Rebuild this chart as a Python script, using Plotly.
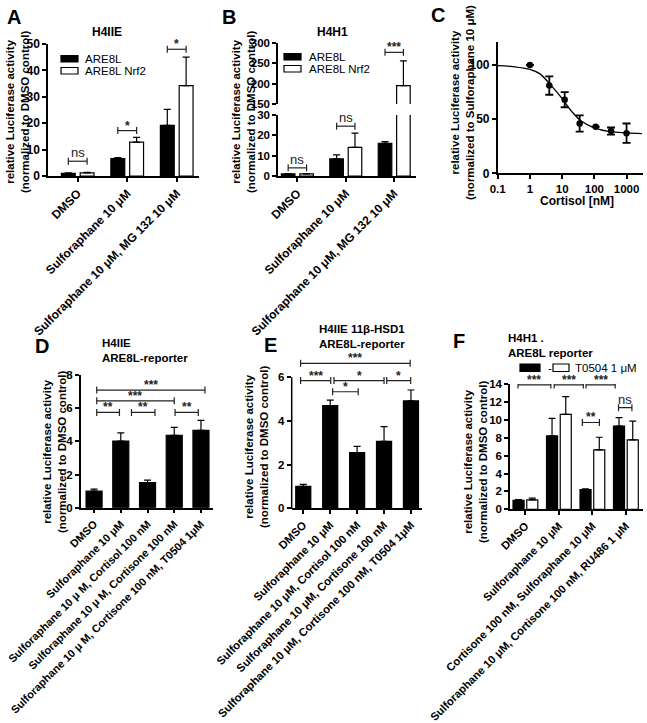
import plotly.graph_objects as go

W, H = 647, 723
FONT = "Liberation Sans"


def fx(p):
    return p / W


def fy(p):
    return 1 - p / H


# ---------------- data ----------------
A_groups = ["DMSO", "Sulforaphane 10 μM", "Sulforaphane 10 μM, MG 132 10 μM"]
A_are8l = [1.0, 6.6, 19.2]
A_are8l_err = [0.2, 0.4, 6.0]
A_nrf2 = [1.2, 12.8, 34.2]
A_nrf2_err = [0.2, 1.8, 10.8]
A_sig = [(-0.19, 0.19, 5.6, "ns"), (0.81, 1.19, 17.2, "*"), (1.81, 2.19, 48.0, "*")]

B_groups = ["DMSO", "Sulforaphane 10 μM", "Sulforaphane 10 μM, MG 132 10 μM"]
B_are8l = [1.0, 8.4, 16.1]
B_are8l_err = [0.2, 2.0, 0.8]
B_nrf2 = [1.0, 14.1, 195.0]
B_nrf2_err = [0.2, 7.0, 61.0]
B_sig_low = [(-0.19, 0.19, 4.0, "ns"), (0.81, 1.19, 24.5, "ns")]
B_sig_up = [(1.81, 2.19, 277.0, "***")]

C_cortisol = [1, 4, 12, 35, 110, 330, 1000]
C_activity = [100, 81, 68, 46, 43, 39, 37]
C_err = [0, 8.5, 7.0, 7.5, 0, 3.3, 9.0]
C_fit_x = [0.1, 0.3, 1, 2, 4, 6, 10, 20, 40, 100, 300, 1000, 3000]
C_fit_y = [99.5, 98.5, 96, 92, 83, 77, 69, 57, 48, 42, 38.5, 37.3, 36.7]

D_labels = ["DMSO", "Sulforaphane 10 μM", "Sulforaphane 10 μ M, Cortisol 100 nM",
            "Sulforaphane 10 μ M, Cortisone 100 nM",
            "Sulforaphane 10 μ M, Cortisone 100 nM, T0504 1μM"]
D_values = [1.0, 4.02, 1.51, 4.37, 4.67]
D_err = [0.12, 0.5, 0.15, 0.48, 0.6]
D_sig = [(0.1, 4.15, 7.1, "***"), (0.1, 3.0, 6.45, "***"), (0.1, 0.95, 5.75, "**"),
         (1.4, 2.28, 5.75, "**"), (3.03, 3.9, 5.75, "**")]

E_labels = ["DMSO", "Sulforaphane 10 μM", "Sulforaphane 10 μM, Cortisol 100 nM",
            "Sulforaphane 10 μM, Cortisone 100 nM",
            "Sulforaphane 10 μM, Cortisone 100 nM, T0504 1μM"]
E_values = [1.0, 4.70, 2.55, 3.07, 4.92]
E_err = [0.1, 0.26, 0.29, 0.67, 0.5]
E_sig = [(-0.1, 3.97, 6.64, "***"), (-0.1, 1.02, 5.85, "***"), (1.14, 3.0, 5.85, "*"),
         (3.1, 3.99, 5.85, "*"), (1.09, 2.04, 5.34, "*")]

F_labels = ["DMSO", "Sulforaphane 10 μM", "Cortisone 100 nM, Sulforaphane 10 μM",
            "Sulforaphane 10 μM, Cortisone 100 nM, RU486 1 μM"]
F_minus = [1.0, 8.2, 2.2, 9.3]
F_minus_err = [0.08, 1.95, 0.08, 0.95]
F_t0504 = [1.05, 10.6, 6.65, 7.75]
F_t0504_err = [0.2, 2.0, 1.4, 2.1]
F_sig = [(-0.22, 0.76, 13.9, "***"), (0.86, 1.73, 13.9, "***"), (1.81, 2.68, 13.9, "***"),
         (1.7, 2.21, 9.7, "**"), (2.78, 3.18, 11.35, "ns")]

YTITLE = "relative Luciferase activity<br>(normalized to DMSO control)"

# ---------------- figure ----------------
fig = go.Figure()
shapes = []
annots = []


def tickfont(size):
    return dict(family=FONT, size=size, color="black", weight="bold")


def axis_common(size=11.5, **kw):
    d = dict(showline=True, linecolor="black", linewidth=1.5, ticks="outside",
             ticklen=4, tickwidth=1.5, tickcolor="black", showgrid=False,
             zeroline=False, tickfont=tickfont(size), fixedrange=True, automargin=False,
             ticklabeloverflow="allow")
    d.update(kw)
    return d


def upper_err(err):
    return dict(type="data", symmetric=False, array=err, arrayminus=[0] * len(err),
                color="black", thickness=1.2, width=3.5)


def bar(x, y, err, xa, ya, fill, width, offset):
    return go.Bar(x=x, y=y, width=width, offset=offset, xaxis=xa, yaxis=ya,
                  marker=dict(color=fill, line=dict(color="black", width=1.2)),
                  error_y=upper_err(err), showlegend=False)


def bracket(x0, x1, y, label, xr, yr):
    lc = "#222"
    shapes.append(dict(type="line", xref=xr, yref=yr, x0=x0, x1=x1, y0=y, y1=y,
                       line=dict(color=lc, width=1.2)))
    for xe in (x0, x1):
        shapes.append(dict(type="line", xref=xr, yref=yr, ysizemode="pixel", yanchor=y,
                           x0=xe, x1=xe, y0=-3.5, y1=3.5, line=dict(color=lc, width=1.2)))
    isns = label == "ns"
    annots.append(dict(x=(x0 + x1) / 2, y=y, xref=xr, yref=yr, text=label, showarrow=False,
                       yanchor="bottom", yshift=-1 if isns else -4,
                       font=dict(family=FONT, size=13 if isns else 12, color="#222",
                                 weight="normal" if isns else "bold")))


def text(xp, yp, s, size=11, bold=True, xanchor="center", align="center", angle=0):
    annots.append(dict(x=fx(xp), y=fy(yp), xref="paper", yref="paper", text=s,
                       showarrow=False, xanchor=xanchor, yanchor="middle", align=align,
                       textangle=angle,
                       font=dict(family=FONT, size=size, color="black",
                                 weight="bold" if bold else "normal")))


def rect(x0, y0, x1, y1, fill):
    shapes.append(dict(type="rect", xref="paper", yref="paper", x0=fx(x0), x1=fx(x1),
                       y0=fy(y1), y1=fy(y0), fillcolor=fill,
                       line=dict(color="black", width=1.2)))


# ----- Panel A -----
gx = list(range(3))
fig.add_trace(bar(gx, A_are8l, A_are8l_err, "x", "y", "black", 0.28, -0.33))
fig.add_trace(bar(gx, A_nrf2, A_nrf2_err, "x", "y", "white", 0.28, 0.05))
for s in A_sig:
    bracket(*s, "x", "y")

# ----- Panel B (broken axis) -----
for ya in ("y2", "y3"):
    fig.add_trace(bar(gx, B_are8l, B_are8l_err, "x2", ya, "black", 0.28, -0.33))
    fig.add_trace(bar(gx, B_nrf2, B_nrf2_err, "x2", ya, "white", 0.28, 0.05))
for s in B_sig_low:
    bracket(*s, "x2", "y2")
for s in B_sig_up:
    bracket(*s, "x2", "y3")

# ----- Panel C -----
fig.add_trace(go.Scatter(x=C_fit_x, y=C_fit_y, mode="lines", line=dict(color="black", width=1.3,
                         shape="spline", smoothing=1.0), xaxis="x4", yaxis="y4", showlegend=False))
fig.add_trace(go.Scatter(x=C_cortisol, y=C_activity, mode="markers",
                         marker=dict(color="black", size=6.5),
                         error_y=dict(type="data", array=C_err, color="black", thickness=1.8, width=4),
                         xaxis="x4", yaxis="y4", showlegend=False))

# ----- Panel D -----
fig.add_trace(bar(list(range(5)), D_values, D_err, "x5", "y5", "black", 0.6, -0.3))
for s in D_sig:
    bracket(*s, "x5", "y5")

# ----- Panel E -----
fig.add_trace(bar(list(range(5)), E_values, E_err, "x6", "y6", "black", 0.56, -0.28))
for s in E_sig:
    bracket(*s, "x6", "y6")
# E y-axis line only up to 6
shapes.append(dict(type="line", xref="paper", yref="paper", x0=fx(291.7), x1=fx(291.7),
                   y0=fy(509.0), y1=fy(377.3), line=dict(color="black", width=1.5)))

# ----- Panel F -----
fx4 = list(range(4))
fig.add_trace(bar(fx4, F_minus, F_minus_err, "x7", "y7", "black", 0.33, -0.37))
fig.add_trace(bar(fx4, F_t0504, F_t0504_err, "x7", "y7", "white", 0.33, 0.04))
for s in F_sig:
    bracket(*s, "x7", "y7")

# ---------------- axes ----------------
lay = {}
lay["xaxis"] = axis_common(12, domain=[fx(48), fx(199)], range=[-0.6, 2.45], anchor="y",
                           tickvals=gx, ticktext=A_groups, tickangle=-45)
lay["yaxis"] = axis_common(12, domain=[fy(176), fy(44)], range=[0, 50], anchor="x",
                           tickvals=[0, 10, 20, 30, 40, 50])

lay["xaxis2"] = axis_common(12, domain=[fx(278), fx(416)], range=[-0.4, 2.45], anchor="y2",
                            tickvals=gx, ticktext=B_groups, tickangle=-45)
lay["yaxis2"] = axis_common(11.5, domain=[fy(176), fy(115)], range=[0, 30], anchor="x2",
                            tickvals=[0, 10, 20, 30])
lay["yaxis3"] = axis_common(11.5, domain=[fy(104), fy(43)], range=[150, 300], anchor="x2",
                            tickvals=[150, 200, 250, 300])

lay["xaxis4"] = axis_common(11.5, domain=[fx(497.7), fx(643.3)], type="log", range=[-1, 3.52],
                            anchor="y4", tickvals=[0.1, 1, 10, 100, 1000],
                            ticktext=["0.1", "1", "10", "100", "1000"])
lay["yaxis4"] = axis_common(12, domain=[fy(173.3), fy(41.7)], range=[0, 121.5], anchor="x4",
                            tickvals=[0, 50, 100])

lay["xaxis5"] = axis_common(11, domain=[fx(80.7), fx(213)], range=[-0.5, 4.45], anchor="y5",
                            tickvals=list(range(5)), ticktext=D_labels, tickangle=-45)
lay["yaxis5"] = axis_common(11.5, domain=[fy(507.7), fy(375.2)], range=[0, 8], anchor="x5",
                            tickvals=[0, 2, 4, 6, 8])

lay["xaxis6"] = axis_common(11.3, domain=[fx(291.7), fx(422)], range=[-0.43, 4.41], anchor="y6",
                            tickvals=list(range(5)), ticktext=E_labels, tickangle=-45)
lay["yaxis6"] = axis_common(11.5, domain=[fy(508.3), fy(357.7)], range=[0, 6.9], anchor="x6",
                            tickvals=[0, 2, 4, 6], showline=False)

lay["xaxis7"] = axis_common(11.2, domain=[fx(510), fx(643.3)], range=[-0.46, 3.52], anchor="y7",
                            tickvals=fx4, ticktext=F_labels, tickangle=-45)
lay["yaxis7"] = axis_common(11.5, domain=[fy(509.3), fy(384)], range=[0, 14], anchor="x7",
                            tickvals=list(range(0, 15, 2)))

# ---------------- texts ----------------
# panel letters
for lx, ly, L in [(14, 17, "A"), (229, 17, "B"), (438, 15, "C"), (42, 346, "D"),
                  (270, 345, "E"), (459, 341, "F")]:
    text(lx, ly, L, size=20)

# titles
text(107, 32, "H4IIE", size=12)
text(332, 32, "H4H1", size=12)
text(100, 350, "H4IIE<br>ARE8L-reporter", size=11.5, xanchor="left", align="left")
text(362, 336.5, "H4IIE 11β-HSD1<br>ARE8L-reporter", size=11.5)
text(506, 345, "H4H1 .<br>ARE8L reporter", size=11.5, xanchor="left", align="left")

# y titles
text(17, 112, YTITLE, size=11.5, angle=-90)
text(243, 112, YTITLE, size=11.5, angle=-90)
text(463, 103, "relative Luciferase activity<br>(normalized to Sulforaphane 10 μM)", size=11.5, angle=-90)
text(54, 452, YTITLE, size=11.5, angle=-90)
text(256, 447, YTITLE, size=11.5, angle=-90)
text(476, 462, YTITLE, size=11.5, angle=-90)

# C x title
text(577, 201, "Cortisol [nM]", size=12)

# legends
rect(61, 55.5, 78, 62, "black")
rect(61, 67.5, 78, 74, "white")
text(83, 58.8, "ARE8L", size=11.5, bold=False, xanchor="left")
text(83, 71.2, "ARE8L Nrf2", size=11.5, bold=False, xanchor="left")

rect(284, 53.5, 301, 60, "black")
rect(284, 65.5, 301, 72, "white")
text(307, 56.8, "ARE8L", size=11.5, bold=False, xanchor="left")
text(307, 69.2, "ARE8L Nrf2", size=11.5, bold=False, xanchor="left")

rect(520, 364, 540, 371.5, "black")
text(546, 367.5, "-", size=11.5, bold=False, xanchor="left")
rect(553, 364, 569, 371.5, "white")
text(573, 367.5, "T0504 1 μM", size=11.5, bold=False, xanchor="left")

fig.update_layout(width=W, height=H, margin=dict(l=0, r=0, t=0, b=0, autoexpand=False),
                  paper_bgcolor="white", plot_bgcolor="white", barmode="overlay",
                  shapes=shapes, annotations=annots, showlegend=False,
                  font=dict(family=FONT, color="black"), **lay)

fig.write_html("out.html", config={"displayModeBar": False},
               post_script="document.body.style.margin='0';document.body.style.padding='0';")
